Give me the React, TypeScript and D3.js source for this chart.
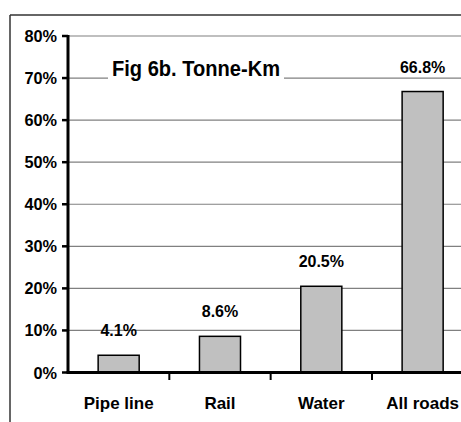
import React from "react";
import * as d3 from "d3";

const categories = ["Pipe line", "Rail", "Water", "All roads"];
const values = [4.1, 8.6, 20.5, 66.8];
const valueLabels = ["4.1%", "8.6%", "20.5%", "66.8%"];
const yTicks = [0, 10, 20, 30, 40, 50, 60, 70, 80];
const title = "Fig 6b. Tonne-Km";

const W = 461;
const H = 422;
const FONT = "'Liberation Sans', Arial, sans-serif";

export default function App() {
  const x = d3
    .scaleBand<string>()
    .domain(categories)
    .range([68, 473.3])
    .paddingInner(0.595)
    .paddingOuter(0.2975);
  const y = d3.scaleLinear().domain([0, 80]).range([372.5, 36]);
  const step = x.step();
  const x0 = x.range()[0];
  const boundaries = d3.range(categories.length + 1).map((i) => x0 + i * step);

  return (
    <svg
      width={W}
      height={H}
      style={{ position: "absolute", left: 0, top: 0, display: "block", background: "#fff" }}
      fontFamily={FONT}
    >
      <rect x={0} y={0} width={W} height={H} fill="#fff" />
      {/* outer frame */}
      <line x1={10} y1={15} x2={W} y2={15} stroke="#333" strokeWidth={1.5} />
      <line x1={10} y1={15} x2={10} y2={H} stroke="#333" strokeWidth={1.5} />

      {/* gridlines */}
      {yTicks
        .filter((t) => t > 0)
        .map((t) => (
          <line key={t} x1={68} x2={W} y1={y(t)} y2={y(t)} stroke="#808080" strokeWidth={1.2} />
        ))}

      {/* title with white backing */}
      <rect x={108} y={54} width={176} height={30} fill="#fff" />
      <text
        x={112}
        y={76}
        fontSize={22}
        fontWeight="bold"
        textLength={168}
        lengthAdjust="spacingAndGlyphs"
        fill="#000"
      >
        {title}
      </text>

      {/* bars */}
      {categories.map((c, i) => (
        <rect
          key={c}
          x={x(c)}
          y={y(values[i])}
          width={x.bandwidth()}
          height={y(0) - y(values[i])}
          fill="#c0c0c0"
          stroke="#000"
          strokeWidth={1.5}
        />
      ))}

      {/* value labels */}
      {categories.map((c, i) => (
        <text
          key={c}
          x={(x(c) as number) + x.bandwidth() / 2}
          y={y(values[i]) - 19}
          fontSize={16}
          fontWeight="bold"
          textAnchor="middle"
          fill="#000"
        >
          {valueLabels[i]}
        </text>
      ))}

      {/* y axis */}
      <line x1={68} x2={68} y1={y(80) - 1} y2={y(0)} stroke="#000" strokeWidth={3} />
      {yTicks.map((t) => (
        <g key={t}>
          <line x1={62} x2={68} y1={y(t)} y2={y(t)} stroke="#000" strokeWidth={2.5} />
          <text
            x={57}
            y={y(t) + 6}
            fontSize={16.3}
            fontWeight="bold"
            textAnchor="end"
            fill="#000"
          >
            {t}%
          </text>
        </g>
      ))}

      {/* x axis */}
      <line x1={66.5} x2={W} y1={y(0)} y2={y(0)} stroke="#000" strokeWidth={3} />
      {boundaries.slice(1).map((b, i) => (
        <line key={i} x1={b} x2={b} y1={y(0)} y2={380} stroke="#000" strokeWidth={2} />
      ))}
      {categories.map((c) => (
        <text
          key={c}
          x={(x(c) as number) + x.bandwidth() / 2}
          y={409}
          fontSize={17}
          fontWeight="bold"
          textAnchor="middle"
          fill="#000"
        >
          {c}
        </text>
      ))}
    </svg>
  );
}
